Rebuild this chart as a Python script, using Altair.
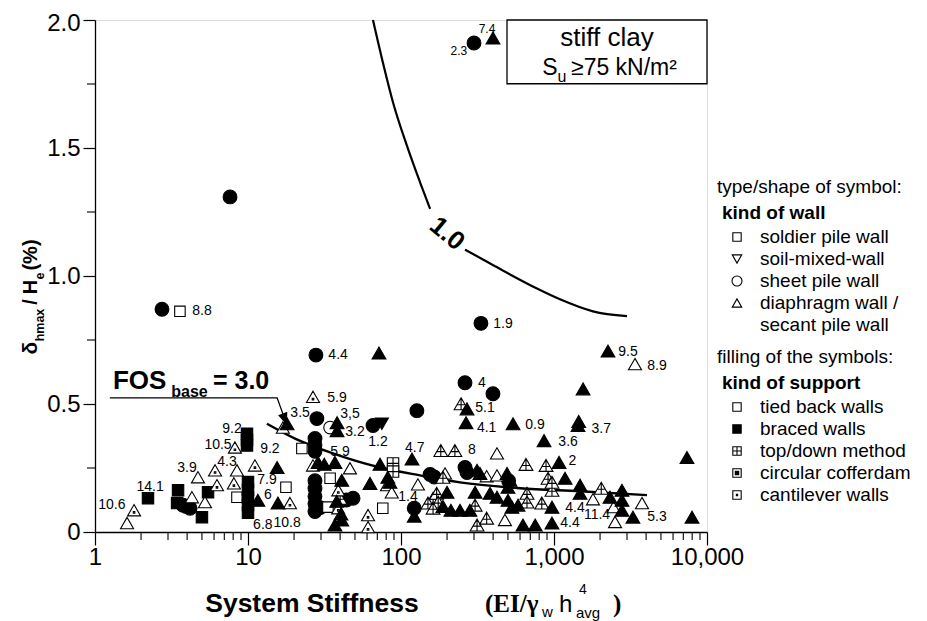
import altair as alt
import pandas as pd

# ---------------- data ----------------
# filled circles: sheet pile wall, braced
CO_X = [300, 7.63, 2.74, 27.8, 333, 262, 399, 127, 3.76, 4.18, 3.95, 28.2, 65.6, 27.4, 27.4,
        27.4, 155, 165, 27.4, 27.4, 27.4, 27.4, 27.4, 29.5, 48.6, 44.0, 122, 505, 262, 270]
CO_Y = [1.91, 1.309, 0.870, 0.691, 0.815, 0.583, 0.540, 0.474, 0.105, 0.093, 0.100, 0.443, 0.416, 0.365, 0.340,
        0.315, 0.225, 0.215, 0.200, 0.170, 0.140, 0.110, 0.080, 0.095, 0.132, 0.125, 0.093, 0.200, 0.252, 0.232]
# open circle: sheet pile wall, tied back
CIO_X = [34.4]
CIO_Y = [0.408]
# filled inverted triangle: soil-mixed wall, braced
VF_X = [75.0]
VF_Y = [0.423]
# open squares: soldier pile wall, tied back
SO_X = [3.59, 8.47, 17.7, 22.5, 76.0, 34.4, 33.3]
SO_Y = [0.862, 0.136, 0.175, 0.326, 0.093, 0.210, 0.097]
# filled squares: soldier pile wall, braced
SF_X = [2.22, 3.49, 3.44, 5.00, 5.48, 9.85, 9.85, 9.85, 10.0, 10.0, 10.0, 10.0, 10.0]
SF_Y = [0.132, 0.163, 0.113, 0.058, 0.155, 0.384, 0.360, 0.338, 0.195, 0.165, 0.135, 0.105, 0.075]
# squares with cross: soldier pile wall, top/down
SX_X = [88.7, 88.7]
SX_Y = [0.268, 0.236]
# filled triangles: diaphragm wall, braced
TF_X = [399, 71.8, 2254, 1549, 270, 266, 540, 1435, 1450, 861, 7400, 7980, 1079, 1181, 15.5, 11.6,
        15.7, 18.0, 38.2, 38.2, 28.7, 31.5, 37.0, 72.9, 118, 82.0, 84.7, 62.7, 41.0, 41.0, 37.0, 38.0,
        40.5, 122, 212, 243, 282, 305, 382, 328, 424, 493, 500, 500, 531, 516, 314, 627, 754, 970,
        970, 1480, 1480, 2323, 2781, 2781, 2781, 3280, 188, 200, 582]
TF_Y = [1.93, 0.699, 0.707, 0.559, 0.481, 0.427, 0.423, 0.416, 0.432, 0.357, 0.291, 0.058, 0.272, 0.210, 0.252, 0.124,
        0.113, 0.423, 0.427, 0.396, 0.272, 0.265, 0.272, 0.265, 0.285, 0.214, 0.194, 0.190, 0.202, 0.047, 0.027, 0.120,
        0.070, 0.062, 0.085, 0.085, 0.085, 0.155, 0.151, 0.229, 0.136, 0.229, 0.175, 0.124, 0.097, 0.202, 0.241, 0.027, 0.027, 0.035,
        0.097, 0.183, 0.151, 0.136, 0.163, 0.124, 0.085, 0.058, 0.100, 0.155, 0.105]
# open triangles: diaphragm wall, tied back
TO_X = [3383, 424, 1.62, 4.30, 5.23, 4.71, 8.47, 16.9, 26.6, 46.4, 81.0, 87.0, 129, 194, 363, 424,
        478, 1798, 2450, 2506, 3760]
TO_Y = [0.656, 0.307, 0.035, 0.136, 0.117, 0.214, 0.241, 0.408, 0.260, 0.249, 0.183, 0.155, 0.186, 0.229, 0.218, 0.221,
        0.047, 0.128, 0.097, 0.039, 0.113]
# triangles with cross: diaphragm wall, top/down method
TX_X = [247, 182, 225, 40.0, 162, 171, 175, 150, 162, 188, 305, 314, 363, 656, 887, 914, 666, 666,
        832, 970, 970, 2036]
TX_Y = [0.501, 0.318, 0.318, 0.132, 0.132, 0.151, 0.117, 0.113, 0.093, 0.214, 0.105, 0.027, 0.054, 0.264, 0.260, 0.210, 0.151, 0.117,
        0.113, 0.163, 0.194, 0.171]
# triangles with dot: diaphragm wall, cantilever
TD_X = [26.6, 1.80, 6.09, 6.27, 8.09, 8.21, 11.1, 18.8, 38.9, 38.9, 60.9, 60.9]
TD_Y = [0.528, 0.085, 0.241, 0.183, 0.190, 0.330, 0.260, 0.113, 0.163, 0.093, 0.066, 0.019]

# point annotations
LBL_TEXT = ["2.3", "7.4", "8.8", "4.4", "1.9", "9.5", "8.9", "4", "5.1", "4.1", "0.9", "3.7", "3.6", "2",
            "8", "4.7", "5.9", "3.5", "3,5", "3.2", "1.2", "5.9", "9.2", "10.5", "9.2", "4.3", "3.9", "7.9",
            "6", "14.1", "10.6", "6.8", "10.8", "1.4", "4.4", "4.4", "11.4", "5.3"]
LBL_X = [239, 365, 5.0, 38.8, 464, 3048, 4710, 338, 354, 363, 751, 2036, 1236, 1318,
         291, 123, 38.2, 21.9, 46.4, 50.0, 70.7, 39.9, 7.86, 6.37, 13.9, 7.29, 3.99, 13.3,
         13.5, 2.29, 1.29, 12.5, 18.0, 111, 1371, 1273, 1910, 4710]
LBL_Y = [1.88, 1.965, 0.862, 0.691, 0.812, 0.703, 0.649, 0.583, 0.485, 0.408, 0.419, 0.404, 0.350, 0.276,
         0.322, 0.330, 0.524, 0.466, 0.462, 0.392, 0.350, 0.311, 0.404, 0.338, 0.326, 0.272, 0.249, 0.202,
         0.144, 0.175, 0.105, 0.027, 0.035, 0.136, 0.093, 0.035, 0.066, 0.058]
N_SMALL_LABELS = 2  # the first two labels are printed smaller

# FOS = 1.0 curve (two pieces around its label)
C10_X = [65.6, 76.2, 88.7, 109, 133, 155, 262, 365, 516, 774, 1094, 1798, 3000]
C10_Y = [2.0, 1.833, 1.678, 1.511, 1.367, 1.262, 1.103, 1.056, 1.006, 0.951, 0.909, 0.862, 0.843]
C10_SEG = ["a", "a", "a", "a", "a", "a", "b", "b", "b", "b", "b", "b", "b"]
# FOS_base = 3.0 trend line
FOS_X = [13.3, 20.3, 34.4, 72.9, 133, 243, 600, 1480, 4054]
FOS_Y = [0.423, 0.365, 0.311, 0.252, 0.221, 0.194, 0.171, 0.159, 0.144]
# leader line from the FOS label
PTR_X = [1.25, 15.5, 18.0]
PTR_Y = [0.524, 0.524, 0.416]

# "stiff clay" box
BOX_X = [493, 10000]
BOX_Y = [1.751, 2.0]

X_MAJOR = [1, 10, 100, 1000, 10000]
X_MINOR = [m * 10 ** e for e in range(4) for m in range(2, 10)]
Y_MAJOR = [0, 0.5, 1.0, 1.5, 2.0]
Y_MINOR = [0.25, 0.75, 1.25, 1.75]

WALL_TYPES = ["soldier pile wall", "soil-mixed-wall", "sheet pile wall", "diaphragm wall /", "secant pile wall"]
SUPPORT_TYPES = ["tied back walls", "braced walls", "top/down method", "circular cofferdam", "cantilever walls"]

# ---------------- symbols ----------------
TRI = "M0,-0.866L1,0.866L-1,0.866Z"
SQ = "M-1,-1L1,-1L1,1L-1,1Z"
SHAPES = {
    "co": "circle", "cO": "circle",
    "tf": "triangle-up", "to": "triangle-up",
    "tx": TRI + "M0,-0.866L0,0.866M-0.6,0.15L0.6,0.15",
    "td": TRI + "M-0.12,0.22L0.12,0.22L0.12,0.46L-0.12,0.46Z",
    "sf": "square", "so": "square",
    "sx": SQ + "M0,-1L0,1M-1,0L1,0",
    "sd": SQ + "M-0.15,-0.15L0.15,-0.15L0.15,0.15L-0.15,0.15Z",
    "vf": "triangle-down", "vo": "triangle-down",
}
FILLS = {k: ("black" if k in ("co", "tf", "sf", "vf") else "white") for k in SHAPES}
SIZES = {"co": 190, "cO": 160, "tf": 190, "to": 170, "tx": 190, "td": 170,
         "sf": 130, "so": 110, "sx": 130, "sd": 110, "vf": 170, "vo": 170}

groups = [("co", CO_X, CO_Y), ("cO", CIO_X, CIO_Y), ("vf", VF_X, VF_Y), ("so", SO_X, SO_Y),
          ("sf", SF_X, SF_Y), ("sx", SX_X, SX_Y), ("to", TO_X, TO_Y), ("tx", TX_X, TX_Y),
          ("td", TD_X, TD_Y), ("tf", TF_X, TF_Y)]
rows = []
for code, xs, ys in groups:
    for a, b in zip(xs, ys, strict=True):
        rows.append({"x": a, "y": b, "sym": code})
pts = pd.DataFrame(rows)
pts["fc"] = pts["sym"].map(FILLS)
pts["sz"] = pts["sym"].map(SIZES)

lbl = pd.DataFrame({"t": LBL_TEXT, "x": LBL_X, "y": LBL_Y})
lbl["fs"] = [12 if i < N_SMALL_LABELS else 14 for i in range(len(LBL_TEXT))]

FONT = "Liberation Sans"
W, H = 612, 512
TOP = 12  # top padding; plot origin is at page y = 8 + TOP

xscale = alt.Scale(type="log", domain=[1, 10000], nice=False)
yscale = alt.Scale(domain=[0, 2], nice=False, zero=False)
xaxis = alt.Axis(values=X_MAJOR, labelExpr="format(datum.value, ',')", tickSize=13, tickColor="black",
                 tickWidth=1.2, domainColor="black", domainWidth=1.3, labelFont=FONT, labelFontSize=24,
                 labelColor="black", labelPadding=0, grid=False, title=None, labelFlush=False,
                 labelOverlap=False)
yaxis = alt.Axis(values=Y_MAJOR, labelExpr="datum.value == 0 ? '0' : format(datum.value, '.1f')",
                 tickSize=12, tickColor="black", tickWidth=1.2, domainColor="black", domainWidth=1.3,
                 labelFont=FONT, labelFontSize=24, labelColor="black", labelPadding=3, grid=False,
                 title=None, labelOverlap=False,
                 labelOffset={"condition": {"test": "datum.value == 2", "value": 3}, "value": 0})


def X(f):
    return alt.X(f, scale=xscale, axis=xaxis)


def Y(f):
    return alt.Y(f, scale=yscale, axis=yaxis)


shape_scale = alt.Scale(domain=list(SHAPES.keys()), range=list(SHAPES.values()))

layers = []
layers.append(alt.Chart(pd.DataFrame({"t": X_MINOR})).mark_rule(color="black", strokeWidth=1.1).encode(
    x=X("t:Q"), y=alt.value(H), y2=alt.value(H + 8)))
layers.append(alt.Chart(pd.DataFrame({"t": Y_MINOR})).mark_rule(color="black", strokeWidth=1.1).encode(
    y=Y("t:Q"), x=alt.value(-8), x2=alt.value(0)))

layers.append(alt.Chart(pd.DataFrame({"x": C10_X, "y": C10_Y, "s": C10_SEG})).mark_line(
    color="black", strokeWidth=2.2, interpolate="monotone").encode(x=X("x:Q"), y=Y("y:Q"), detail="s:N"))
layers.append(alt.Chart(pd.DataFrame({"x": FOS_X, "y": FOS_Y})).mark_line(
    color="black", strokeWidth=2.4, interpolate="monotone").encode(x=X("x:Q"), y=Y("y:Q")))
layers.append(alt.Chart(pd.DataFrame({"x": PTR_X, "y": PTR_Y})).mark_line(
    color="black", strokeWidth=1.3).encode(x=X("x:Q"), y=Y("y:Q")))
layers.append(alt.Chart(pd.DataFrame({"x": [PTR_X[-1]], "y": [PTR_Y[-1]]})).mark_point(
    shape="M0,0L-0.38,-1L0.38,-1Z", size=650, filled=True, color="black", opacity=1, angle=340).encode(
    x=X("x:Q"), y=Y("y:Q")))

layers.append(alt.Chart(pd.DataFrame({"x": [BOX_X[0]], "x2": [BOX_X[1]], "y": [BOX_Y[0]], "y2": [BOX_Y[1]]}))
              .mark_rect(fill="white", stroke="black", strokeWidth=1.3)
              .encode(x=X("x:Q"), x2="x2:Q", y=Y("y:Q"), y2="y2:Q"))

layers.append(alt.Chart(pts).mark_point(filled=True, stroke="black", strokeWidth=1.1, opacity=1).encode(
    x=X("x:Q"), y=Y("y:Q"),
    shape=alt.Shape("sym:N", scale=shape_scale, legend=None),
    fill=alt.Fill("fc:N", scale=None),
    size=alt.Size("sz:Q", scale=None)))

layers.append(alt.Chart(lbl).mark_text(font=FONT, color="black").encode(
    x=X("x:Q"), y=Y("y:Q"), text="t:N", size=alt.Size("fs:Q", scale=None)))


def dtext(txt, x, y, size, bold=False, align="center", angle=0, font=FONT):
    kw = dict(text=txt, font=font, fontSize=size, color="black", align=align, baseline="middle")
    if bold:
        kw["fontWeight"] = "bold"
    if angle:
        kw["angle"] = angle
    return alt.Chart(pd.DataFrame({"x": [x], "y": [y]})).mark_text(**kw).encode(x=X("x:Q"), y=Y("y:Q"))


layers.append(dtext("1.0", 200, 1.165, 26, bold=True, angle=40))
layers.append(dtext("FOS", 1.31, 0.59, 26, bold=True, align="left"))
layers.append(dtext("base", 3.15, 0.548, 16, bold=True, align="left"))
layers.append(dtext("= 3.0", 5.9, 0.59, 25, bold=True, align="left"))
layers.append(dtext("stiff clay", 2220, 1.93, 26))
layers.append(dtext("S", 942, 1.814, 23))
layers.append(dtext("u", 1128, 1.776, 16))
layers.append(dtext("≥75 kN/m²", 1292, 1.814, 23, align="left"))


def ptext(txt, px, py, size, bold=False, align="center", baseline="middle", angle=0, font=FONT):
    # px, py are page coordinates relative to the plot origin of the reference (95, 17)
    kw = dict(text=txt, font=font, fontSize=size, color="black", align=align, baseline=baseline)
    if bold:
        kw["fontWeight"] = "bold"
    if angle:
        kw["angle"] = angle
    return alt.Chart(pd.DataFrame({"a": [0]})).mark_text(**kw).encode(
        x=alt.value(px), y=alt.value(py - (TOP - 9)))


# y-axis title  δ_hmax / H_e (%)
layers.append(ptext("δ", -58, 331, 21, bold=True, baseline="alphabetic", angle=270))
layers.append(ptext("hmax", -51, 308, 12.5, bold=True, baseline="alphabetic", angle=270))
layers.append(ptext("/", -58, 285, 20, bold=True, baseline="alphabetic", angle=270))
layers.append(ptext("H", -58, 270, 20, bold=True, baseline="alphabetic", angle=270))
layers.append(ptext("e", -51, 259, 12.5, bold=True, baseline="alphabetic", angle=270))
layers.append(ptext("(%)", -58, 238, 20, bold=True, baseline="alphabetic", angle=270))

# x-axis title
SERIF = "Liberation Serif"
layers.append(ptext("System Stiffness", 217, 595, 26.5, bold=True, baseline="alphabetic"))
layers.append(ptext("(EI/γ", 390, 595, 25, bold=True, align="left", baseline="alphabetic", font=SERIF))
layers.append(ptext("w", 447, 600, 15, align="left", baseline="alphabetic"))
layers.append(ptext("h", 464, 595, 24, align="left", baseline="alphabetic"))
layers.append(ptext("4", 484, 577, 14, align="left", baseline="alphabetic"))
layers.append(ptext("avg", 481, 601, 15, align="left", baseline="alphabetic"))
layers.append(ptext(")", 518, 595, 25, bold=True, align="left", baseline="alphabetic", font=SERIF))

# legend
LX_HEAD, LX_SUB, LX_SYM, LX_TXT = 622, 627, 642, 665
entries = ([("head", "type/shape of symbol:", None), ("sub", "kind of wall", None)]
           + list(zip(["item"] * 5, WALL_TYPES, ["so", "vo", "cO", "to", None]))
           + [("head", "filling of the symbols:", None), ("sub", "kind of support", None)]
           + list(zip(["item"] * 5, SUPPORT_TYPES, ["so", "sf", "sx", "sc", "sd"])))
LEG_SYM_SIZE = {"so": 70, "vo": 90, "cO": 100, "to": 90, "sf": 70, "sx": 70, "sc": 70, "sd": 70}
ly = 170
prev = None
for kind, txt, sym in entries:
    if prev is not None:
        if kind == "head":
            ly += 32
        elif kind == "sub":
            ly += 26
        elif prev == "sub":
            ly += 24
        else:
            ly += 22
    prev = kind
    if kind == "head":
        layers.append(ptext(txt, LX_HEAD, ly, 19, align="left"))
    elif kind == "sub":
        layers.append(ptext(txt, LX_SUB, ly, 19, bold=True, align="left"))
    else:
        layers.append(ptext(txt, LX_TXT, ly, 19, align="left"))
        if sym is not None:
            shp = SHAPES["so"] if sym == "sc" else SHAPES[sym]
            fc = "black" if sym == "sf" else "white"
            layers.append(alt.Chart(pd.DataFrame({"a": [0]})).mark_point(
                shape=shp, size=LEG_SYM_SIZE[sym], filled=True, fill=fc, stroke="black",
                strokeWidth=1.1, opacity=1).encode(x=alt.value(LX_SYM), y=alt.value(ly - (TOP - 9))))
            if sym == "sc":
                layers.append(alt.Chart(pd.DataFrame({"a": [0]})).mark_point(
                    shape="square", size=20, filled=True, color="black", opacity=1).encode(
                    x=alt.value(LX_SYM), y=alt.value(ly - (TOP - 9))))

chart = alt.layer(*layers).properties(
    width=W, height=H,
    autosize=alt.AutoSizeParams(type="none"),
    padding={"left": 87, "top": TOP, "right": 212, "bottom": 89},
).configure_view(stroke="black", strokeWidth=1.3).configure(background="white")

chart.save("out.html", embed_options={"renderer": "svg", "actions": False})
